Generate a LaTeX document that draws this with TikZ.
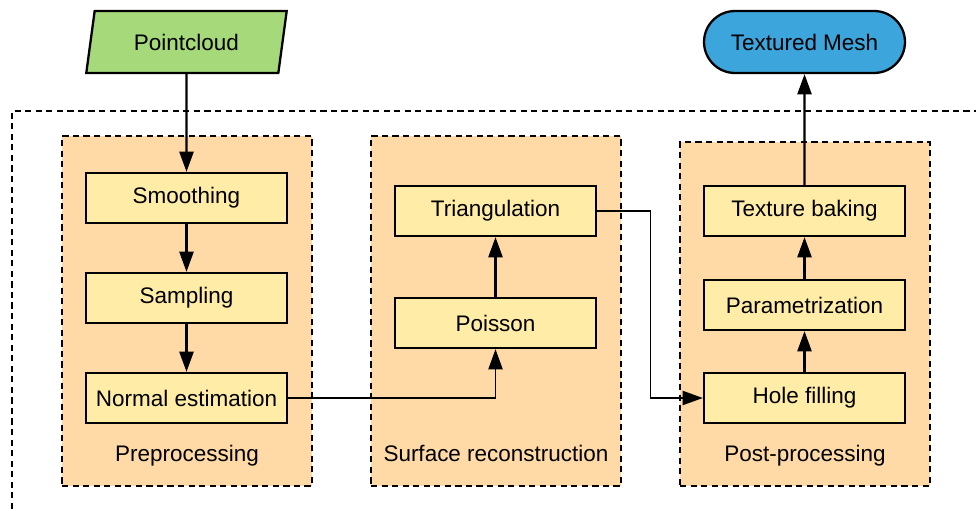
\documentclass[tikz,border=0pt]{standalone}
\usepackage{fontspec}
\setmainfont{Liberation Sans}
\usetikzlibrary{arrows.meta,shapes.geometric,shapes.misc}
\definecolor{cloudgreen}{RGB}{166,217,122}
\definecolor{meshblue}{RGB}{59,165,220}
\definecolor{grouppeach}{RGB}{255,218,166}
\definecolor{boxyellow}{RGB}{255,236,166}

\begin{document}
\begin{tikzpicture}
[x=0.02cm,y=-0.02cm,
  font=\fontsize{12.8}{15}\selectfont,
  stepbox/.style={shape=rectangle,draw,line width=1.3pt,fill=boxyellow,%
    minimum width=4.02cm,minimum height=1cm,inner sep=0pt},%
  groupbox/.style={shape=rectangle,draw,line width=1.1pt,%
    dash pattern=on 3.5pt off 2.5pt,fill=grouppeach,minimum width=5cm,inner sep=0pt},%
  linedecorate/.style={-{Triangle[length=11.5pt,width=8pt]},line width=1.3pt}]
\useasboundingbox (0,0) rectangle (976,510);
%% outer frame
\draw[line width=1.1pt,dash pattern=on 3.5pt off 2.5pt] (12,530) |- (995,111);
%% groups
\foreach \groupname/\x/\y/\h in {pre/187/311/7, surf/496/311/7, post/805/314/6.88}
{
  \node (\groupname) at (\x,\y) [groupbox,minimum height=\h cm] {};
}
\foreach \labelname/\x/\txt in {prelabel/187/Preprocessing,
  surflabel/496/Surface reconstruction, postlabel/805/Post-processing}
{
  \node (\labelname) at (\x,461) [anchor=base] {\txt};
}
%% input and output
\node (cloud) at (186.5,42) [trapezium,trapezium left angle=73.8,trapezium right angle=106.2,%
  trapezium stretches=true,draw,line width=1.3pt,fill=cloudgreen,%
  minimum width=4.02cm,minimum height=1.24cm,inner sep=0pt] {Pointcloud};
\node (mesh) at (804.5,42) [rounded rectangle,draw,line width=1.3pt,fill=meshblue,%
  minimum width=4.02cm,minimum height=1.24cm,inner sep=0pt] {Textured Mesh};
%% steps
\foreach \nodename/\x/\y/\txt in {smooth/186.5/198/Smoothing, sample/186.5/298/Sampling,
  normal/186.5/398/Normal estimation, tri/495.5/211/Triangulation,
  poisson/495.5/323/Poisson, bake/804.5/211/Texture baking,
  param/804.5/305/Parametrization, hole/804.5/398/Hole filling}
{
  \node (\nodename) at (\x,\y) [stepbox] {\txt};
}
%% arrows
\path
\foreach \startnode/\endnode in {cloud/smooth, smooth/sample, sample/normal,
  poisson/tri, hole/param, param/bake, bake/mesh}
{
  (\startnode) edge[linedecorate] (\endnode)
};
\draw[linedecorate,line width=1.1pt] (normal) -| (poisson);
\draw[linedecorate,line width=1.1pt] (tri) -- ++(155,0) |- (hole);
\end{tikzpicture}
\end{document}
